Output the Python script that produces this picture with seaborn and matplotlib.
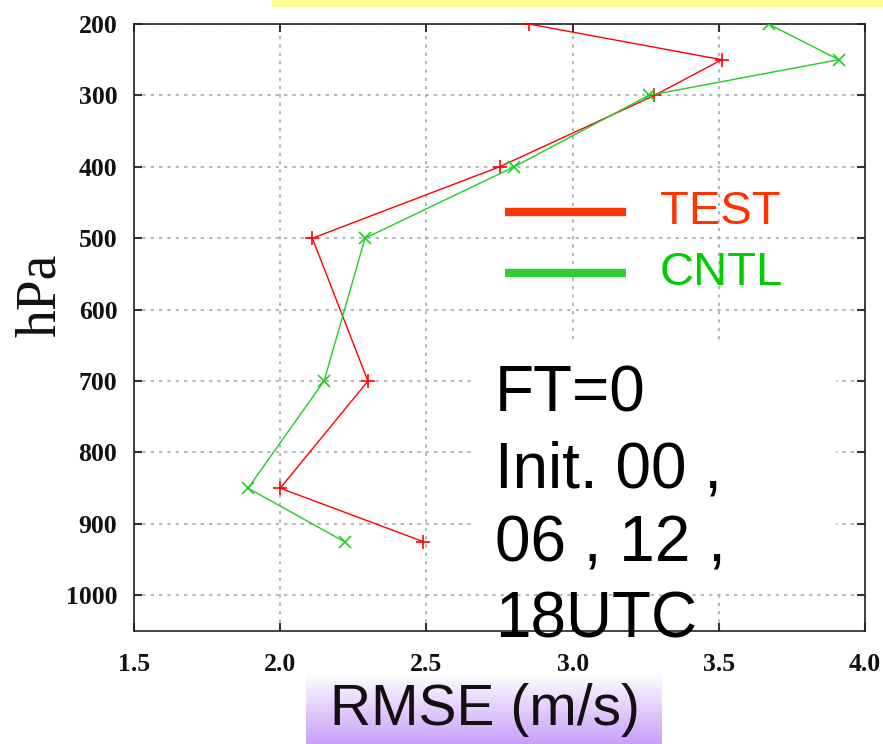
import numpy as np
import pandas as pd
import matplotlib
matplotlib.use("Agg")
import matplotlib.pyplot as plt
from matplotlib.patches import Rectangle
import seaborn as sns

# Pressure levels (hPa) and RMSE of wind (m/s) for each experiment
levels = [200, 250, 300, 400, 500, 700, 850, 925]
rmse_test = [2.85, 3.51, 3.28, 2.75, 2.11, 2.30, 2.00, 2.49]
rmse_cntl = [3.67, 3.91, 3.26, 2.80, 2.29, 2.15, 1.89, 2.22]

x_ticks = [1.5, 2.0, 2.5, 3.0, 3.5, 4.0]
y_ticks = [200, 300, 400, 500, 600, 700, 800, 900, 1000]

df = pd.DataFrame({
    "level": levels * 2,
    "rmse": rmse_test + rmse_cntl,
    "exp": ["TEST"] * len(levels) + ["CNTL"] * len(levels),
})

sns.set_theme(style="white")
plt.rcParams["font.family"] = ["Liberation Sans", "DejaVu Sans"]

W, H = 883, 744
fig = plt.figure(figsize=(W / 100, H / 100), dpi=100)
ax = fig.add_axes([134 / W, 1 - 631 / H, (865 - 134) / W, (631 - 24) / H])

styles = {"TEST": ("red", "+", 10), "CNTL": ("#22cc22", "x", 8)}
for name, (col, mk, ms) in styles.items():
    sub = df[df["exp"] == name]
    sns.lineplot(data=sub, x="rmse", y="level", orient="y", sort=False, ax=ax,
                 color=col, linewidth=1.0, marker=mk, markersize=ms,
                 markeredgewidth=1.2, markeredgecolor=col, legend=False, zorder=3)

ax.set_xlim(1.5, 4.0)
ax.set_ylim(1050, 200)
ax.set_xticks(x_ticks)
ax.set_xticklabels([f"{v:.1f}" for v in x_ticks])
ax.set_yticks(y_ticks)
ax.set_yticklabels([str(v) for v in y_ticks])
ax.set_xlabel("")
ax.set_ylabel("")

ax.grid(True, color="#aaaaaa", linestyle=(0, (2, 3)), linewidth=1.2, zorder=0)
ax.set_axisbelow(True)
for s in ax.spines.values():
    s.set_color("#222222")
    s.set_linewidth(1.2)
ax.tick_params(direction="in", length=6, width=1.5, color="#333333",
               top=True, right=True, bottom=True, left=True)
ax.tick_params(axis="x", pad=16)
ax.tick_params(axis="y", pad=12)
for lab in ax.get_xticklabels() + ax.get_yticklabels():
    lab.set_fontfamily("Liberation Serif")
    lab.set_fontweight("bold")
    lab.set_fontsize(18.5)
    lab.set_color("#111111")

# blank panel behind the annotation
ax.add_patch(Rectangle((0.462, 0.0675), 0.498, 0.4085, transform=ax.transAxes,
                       facecolor="white", edgecolor="none", zorder=1))

# legend drawn by hand
for (name, col, tcol, yp) in [("TEST", "#ff3300", "#ff3300", 212),
                              ("CNTL", "#33cc33", "#00cc00", 273)]:
    ax.plot([(505 - 134) / (865 - 134), (626 - 134) / (865 - 134)],
            [(631 - yp) / 607] * 2, transform=ax.transAxes,
            color=col, linewidth=6, solid_capstyle="butt", zorder=4)
    fig.text(660 / W, 1 - yp / H, name, color=tcol, fontsize=34,
             va="center", ha="left")

# y axis title
fig.text(41 / W, 1 - 295 / H, "hPa", rotation=90, fontsize=40,
         family="Liberation Serif", va="center", ha="center", color="#111111")

# annotation
note = ["FT=0", "Init. 00 ,", "06 , 12 ,", "18UTC"]
for i, line in enumerate(note):
    fig.text(495 / W, 1 - (412 + 75 * i) / H, line, fontsize=46,
             va="baseline", ha="left", color="black", zorder=10)

# yellow strip at the top
fig.patches.append(Rectangle((272 / W, 1 - 7 / H), (W - 272) / W, 7 / H,
                             transform=fig.transFigure, facecolor="#fdfd96",
                             edgecolor="none", zorder=0))

# x axis title on gradient panel
gax = fig.add_axes([306 / W, 0, (662 - 306) / W, 72 / H])
grad = np.linspace(0, 1, 100)[:, None]
top = np.array([1.0, 1.0, 1.0])
bot = np.array([200, 160, 250]) / 255
img = top[None, None, :] * (1 - grad[..., None]) + bot[None, None, :] * grad[..., None]
gax.imshow(img, aspect="auto", extent=[0, 1, 0, 1], origin="upper")
gax.set_axis_off()
gax.text(0.067, 0.26, "RMSE (m/s)", fontsize=41, va="baseline", ha="left",
         transform=gax.transAxes, color="#111111")

fig.savefig("out.png", dpi=100)
